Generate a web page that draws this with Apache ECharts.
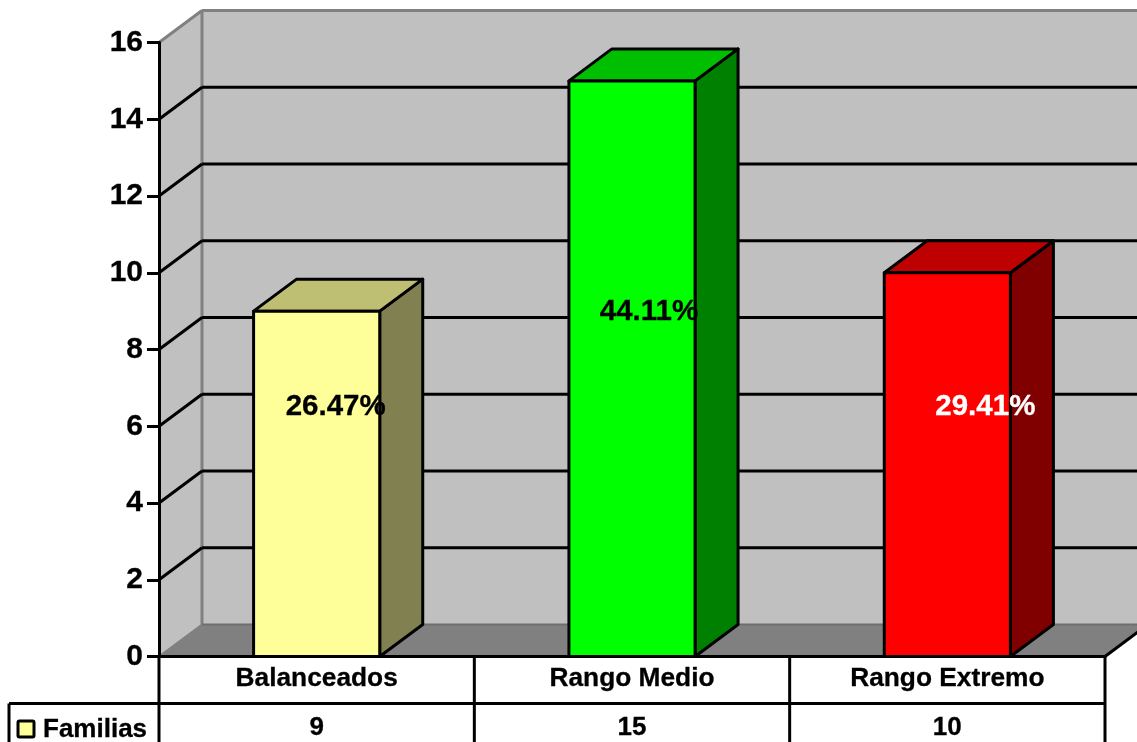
<!DOCTYPE html>
<html>
<head>
<meta charset="utf-8">
<style>html,body{margin:0;padding:0;background:#fff}#chart{width:1137px;height:742px}</style>
<script src="https://cdn.jsdelivr.net/npm/echarts@6/dist/echarts.min.js"></script>
</head>
<body>
<div id="chart"></div>
<script>
// Family counts by cohesion/adaptability range
const serie = 'Familias';
const categories = ['Balanceados', 'Rango Medio', 'Rango Extremo'];
const familias = [9, 15, 10];
const porcentajes = ['26.47%', '44.11%', '29.41%'];
const yTicks = [2, 4, 6, 8, 10, 12, 14, 16];

// Look of the bars and of the percentage labels
const barFront = ['#FFFF99', '#00FF00', '#FF0000'];
const barTop = ['#BFBF73', '#00BF00', '#BF0000'];
const barSide = ['#808050', '#008000', '#800000'];
const labelColor = ['#000', '#000', '#fff'];
const labelLevel = [6.5, 8.98, 6.5];
const labelShift = [19, 17, 38];

const FONT = '"Liberation Sans", Arial, sans-serif';
const DX = 43, DY = -32;          // oblique depth of the 3D box
const ROW1 = 47, ROW2 = 86;       // table rows under the plot
const RULE = 3;                   // weight of the black rules

const chart = echarts.init(document.getElementById('chart'), null, {renderer: 'canvas'});

function poly(points, fill, stroke, lineWidth) {
  return {type: 'polygon', shape: {points},
    style: {fill, stroke: stroke || null, lineWidth: lineWidth || 0, lineJoin: 'round'}};
}
function line(x1, y1, x2, y2, stroke, lineWidth) {
  return {type: 'line', shape: {x1, y1, x2, y2}, style: {stroke, lineWidth}};
}

// Side wall, back wall and floor of the box
function renderWalls(params) {
  const c = params.coordSys;
  const l = c.x, r = c.x + c.width, t = c.y, b = c.y + c.height;
  const wall = '#C0C0C0', edge = '#808080';
  return {type: 'group', children: [
    poly([[l + DX, t + DY], [r + DX, t + DY], [r + DX, b + DY], [l + DX, b + DY]], wall),
    poly([[l, t], [l + DX, t + DY], [l + DX, b + DY], [l, b]], wall),
    poly([[l, b], [l + DX, b + DY], [r + DX, b + DY], [r, b]], edge),
    line(l, t, l + DX, t + DY, edge, 3),
    line(l + DX, t + DY, r + DX, t + DY, edge, 3),
    line(l + DX, t + DY, l + DX, b + DY, edge, 3),
    line(l, b, l + DX, b + DY, edge, 2),
    line(l + DX, b + DY, r + DX, b + DY, '#6e6e6e', 2),
    line(r, b, r + DX, b + DY, '#000', RULE)
  ]};
}

// Gridlines wrapping from the side wall onto the back wall
function renderGrid(params, api) {
  const c = params.coordSys;
  const v = api.value(1);
  const y = api.coord([0, v])[1];
  if (v >= 16) return {type: 'group', children: []};
  return {type: 'group', children: [
    line(c.x, y, c.x + DX, y + DY, '#000', RULE),
    line(c.x + DX, y + DY, c.x + c.width + DX, y + DY, '#000', RULE)
  ]};
}

// One oblique bar with its percentage label
function renderBar(params, api) {
  const i = api.value(0);
  const c = api.coord([i, api.value(1)]);
  const b = api.coord([i, 0]);
  const w = api.size([1, 0])[0] * 0.4;
  const x0 = c[0] - w / 2, x1 = c[0] + w / 2, yt = c[1], yb = b[1];
  return {type: 'group', children: [
    poly([[x1, yt], [x1 + DX, yt + DY], [x1 + DX, yb + DY], [x1, yb]], barSide[i], '#000', RULE),
    poly([[x0, yt], [x0 + DX, yt + DY], [x1 + DX, yt + DY], [x1, yt]], barTop[i], '#000', RULE),
    poly([[x0, yt], [x1, yt], [x1, yb], [x0, yb]], barFront[i], '#000', RULE),
    {type: 'text', z2: 5, style: {
      x: c[0] + labelShift[i], y: api.coord([i, labelLevel[i]])[1],
      text: porcentajes[i], fill: labelColor[i], font: 'bold 29.5px ' + FONT,
      stroke: labelColor[i], lineWidth: 0.3,
      align: 'center', verticalAlign: 'middle'}}
  ]};
}

// Data table under the plot: rules, the row of counts and the series key
function renderTable(params, api) {
  const i = api.value(0);
  const c = params.coordSys;
  const cell = c.width / categories.length;
  const b = c.y + c.height;
  const x = c.x + cell * i;
  const kids = [
    line(x, b, x, b + ROW2, '#000', RULE),
    {type: 'text', style: {
      x: x + cell / 2, y: b + 71, text: String(api.value(1)), fill: '#000',
      stroke: '#000', lineWidth: 0.3,
      font: 'bold 26px ' + FONT, align: 'center', verticalAlign: 'middle'}}
  ];
  if (i === categories.length - 1) {
    kids.push(line(x + cell, b, x + cell, b + ROW2, '#000', RULE));
  }
  if (i === 0) {
    kids.push(line(9, b + ROW1, c.x + c.width, b + ROW1, '#000', RULE));
    kids.push(line(9, b + ROW1, 9, b + ROW2, '#000', RULE));
    kids.push({type: 'rect', shape: {x: 18, y: b + 64.5, width: 16, height: 16, r: 1.5},
      style: {fill: barFront[0], stroke: '#000', lineWidth: RULE}});
    kids.push({type: 'text', style: {
      x: 43, y: b + 73.5, text: serie, fill: '#000',
      stroke: '#000', lineWidth: 0.3,
      font: 'bold 26px ' + FONT, align: 'left', verticalAlign: 'middle'}});
  }
  return {type: 'group', children: kids};
}

chart.setOption({
  animation: false,
  backgroundColor: '#fff',
  grid: {left: 159, top: 42.5, width: 946, height: 614, containLabel: false},
  xAxis: {
    type: 'category', data: categories, z: 10,
    axisLine: {show: true, lineStyle: {color: '#000', width: RULE}},
    axisTick: {show: false},
    splitLine: {show: false},
    axisLabel: {color: '#000', fontFamily: FONT, fontWeight: 'bold', fontSize: 26.3, margin: 9, interval: 0,
      textBorderColor: '#000', textBorderWidth: 0.3}
  },
  yAxis: {
    type: 'value', min: 0, max: 16, interval: 2, z: 10,
    axisLine: {show: true, lineStyle: {color: '#000', width: RULE}},
    axisTick: {show: true, length: 12, lineStyle: {color: '#000', width: RULE}},
    splitLine: {show: false},
    axisLabel: {color: '#000', fontFamily: FONT, fontWeight: 'bold', fontSize: 30, margin: 16,
      textBorderColor: '#000', textBorderWidth: 0.3, padding: [0, 0, 3, 0]}
  },
  series: [
    {type: 'custom', name: 'walls', z: 1, silent: true, renderItem: renderWalls, data: [[0, 0]]},
    {type: 'custom', name: 'grid', z: 2, silent: true, renderItem: renderGrid,
      data: yTicks.map(v => [0, v])},
    {type: 'custom', name: serie, z: 3, renderItem: renderBar,
      encode: {x: 0, y: 1},
      data: familias.map((v, i) => [i, v])},
    {type: 'custom', name: 'table', z: 4, silent: true, renderItem: renderTable,
      data: familias.map((v, i) => [i, v])}
  ]
});
</script>
</body>
</html>
